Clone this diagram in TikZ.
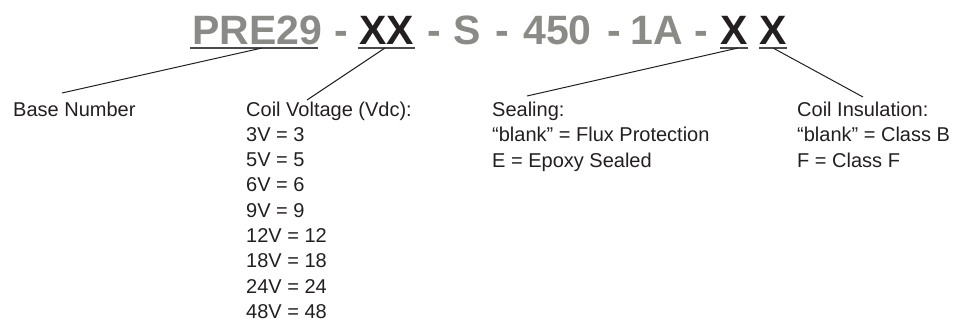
\documentclass[tikz,border=0pt]{standalone}
\usepackage{fontspec}
\setmainfont{Liberation Sans}
\definecolor{tgray}{HTML}{8A8B86}
\definecolor{tblack}{HTML}{231F20}
\definecolor{uline}{HTML}{4A4A4A}
\begin{document}
\begin{tikzpicture}[x=1pt,y=-1pt,
  tok/.style={anchor=base,inner sep=0pt,font=\fontsize{41}{41}\selectfont\bfseries},
  gtok/.style={tok,text=tgray},
  btok/.style={tok,text=tblack},
  lbl/.style={anchor=base west,inner sep=0pt,text=tblack,font=\fontsize{20}{25}\selectfont},
  uln/.style={draw=uline,line width=1.5pt},
  conn/.style={draw=tblack,line width=1pt}]
\useasboundingbox (0,0) rectangle (958,322);
% title tokens
\node[gtok] (t1) at (257.5,44) {PRE29};
\node[gtok] (d1) at (341,44) {-};
\node[btok] (t2) at (386.5,44) {XX};
\node[gtok] (d2) at (434,44) {-};
\node[gtok] (t3) at (467.5,44) {S};
\node[gtok] (d3) at (502,44) {-};
\node[gtok] (t4) at (557.5,44) {450};
\node[gtok] (d4) at (614,44) {-};
\node[gtok] (t5) at (656.5,44) {1A};
\node[gtok] (d5) at (701,44) {-};
\node[btok] (t6) at (734.5,44) {X};
\node[btok] (t7) at (773,44) {X};
% underlines
\draw[uln] (190,48) -- (318,48);
\draw[uln] (358,48) -- (415,48);
\draw[uln] (720,48) -- (748,48);
\draw[uln] (759,48) -- (787,48);
% connector start points on underlines
\coordinate (u1) at (262,48);
\coordinate (u2) at (385,48);
\coordinate (u6) at (738,48);
\coordinate (u7) at (773,48);
% labels
\node[lbl] (base) at (13,116) {Base Number};
\node[lbl] (cv) at (246,116) {Coil Voltage (Vdc):};
\foreach \t [count=\i] in {3V = 3,5V = 5,6V = 6,9V = 9,12V = 12,18V = 18,24V = 24,48V = 48}
  \node[lbl] (cv\i) at (246,116+25.3*\i) {\t};
\node[lbl] (seal) at (492,116) {Sealing:};
\node[lbl] (seal1) at (492,141.5) {“blank” = Flux Protection};
\node[lbl] (seal2) at (492,167) {E = Epoxy Sealed};
\node[lbl] (ins) at (797,116) {Coil Insulation:};
\node[lbl] (ins1) at (797,141.5) {“blank” = Class B};
\node[lbl] (ins2) at (797,167) {F = Class F};
% connector free ends
\coordinate (e1) at (62,93);
\coordinate (e2) at (307,100);
\coordinate (e6) at (527,96);
\coordinate (e7) at (863,97);
\draw[conn] (u1) -- (e1);
\draw[conn] (u2) -- (e2);
\draw[conn] (u6) -- (e6);
\draw[conn] (u7) -- (e7);
\end{tikzpicture}
\end{document}
